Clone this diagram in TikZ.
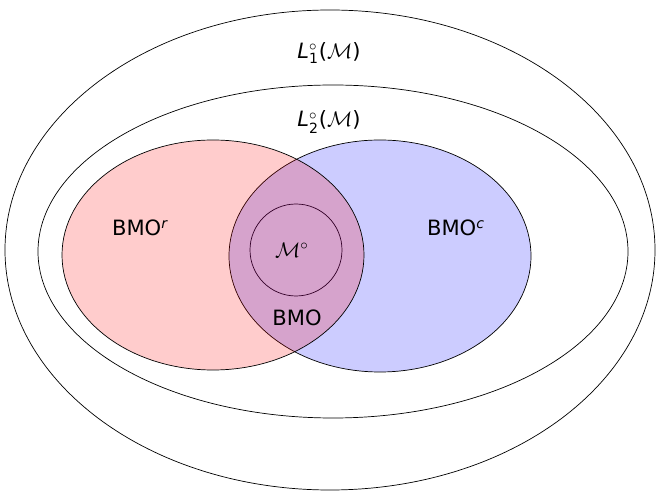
\documentclass[tikz,border=0pt]{standalone}
\usepackage{amsmath}
\usepackage{fontspec}
\setmainfont{DejaVu Sans}
\usepackage{tikz}
\usetikzlibrary{positioning}

\begin{document}
\begin{tikzpicture}[
  x=0.02cm, y=-0.02cm,
  lbl/.style={font=\large,inner sep=1pt},
  setred/.style={draw=black,fill=red,fill opacity=0.2,draw opacity=1},
  setblue/.style={draw=black,fill=blue,fill opacity=0.2,draw opacity=1}
]
\useasboundingbox (0,0) rectangle (657,493);
% nested spaces
\draw (330,250) ellipse [x radius=325, y radius=240];
\draw (333,251.5) ellipse [x radius=295, y radius=166.5];
\draw (296,250) circle [radius=46];
\draw[setblue] (380,256) ellipse [x radius=151, y radius=116];
\draw[setred] (213,255) ellipse [x radius=151, y radius=115];
% labels
\node[lbl] (l1) at (329,53) {\textit{L}$^{\circ}_{\text{1}}$($\mathcal{M}$)};
\node[lbl] (l2) at (329,122) {\textit{L}$^{\circ}_{\text{2}}$($\mathcal{M}$)};
\node[lbl] (bmor) at (140,228) {BMO$^{\textit{r}}$};
\node[lbl] (bmoc) at (456,228) {BMO$^{\textit{c}}$};
\node[lbl] (mo) at (292,250) {$\mathcal{M}^{\circ}$};
\node[lbl] (bmo) at (297,318) {BMO};
\end{tikzpicture}
\end{document}
